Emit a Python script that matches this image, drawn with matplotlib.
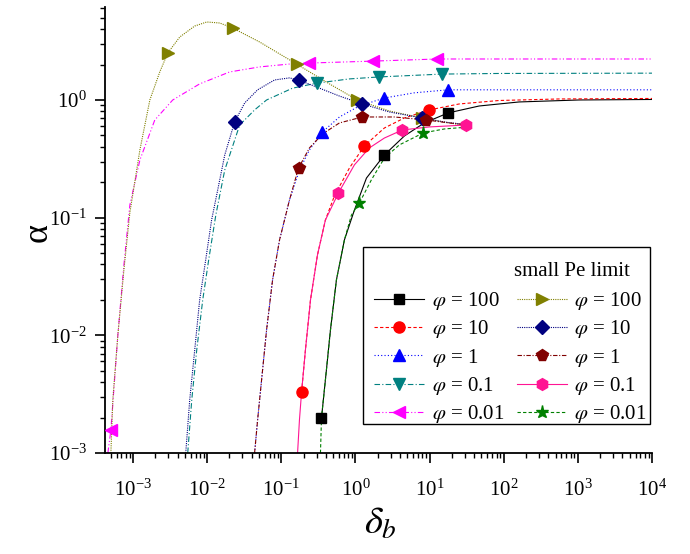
import matplotlib
matplotlib.use("Agg")
import matplotlib.pyplot as plt
from matplotlib.lines import Line2D
from matplotlib.patches import Rectangle
from matplotlib.ticker import LogLocator, NullFormatter

plt.rcParams['font.family'] = ['Liberation Serif', 'DejaVu Serif']
plt.rcParams['mathtext.fontset'] = 'stix'

# ---------------- data ----------------
# main curves (finite Pe)
x_phi100 = [0.349, 0.394, 0.461, 0.555, 0.711, 0.970, 1.41, 2.46, 4.57, 8.49, 17.8, 46.7, 161, 1035, 1e4]
y_phi100 = [1.99e-3, 4.18e-3, 0.0111, 0.0296, 0.0647, 0.116, 0.217, 0.341, 0.494, 0.638, 0.776, 0.889, 0.962, 1.0, 1.01]
mx_phi100 = [0.349, 2.46, 17.8]
my_phi100 = [1.99e-3, 0.341, 0.776]

x_phi10 = [0.188, 0.212, 0.248, 0.308, 0.394, 0.521, 0.830, 1.32, 2.46, 4.57, 9.91, 25.1, 86.7, 557, 1e4]
y_phi10 = [3.30e-3, 7.52e-3, 0.0200, 0.0482, 0.0955, 0.153, 0.264, 0.407, 0.578, 0.703, 0.823, 0.925, 0.99, 1.02, 1.03]
mx_phi10 = [0.188, 1.32, 9.91]
my_phi10 = [3.30e-3, 0.407, 0.823]

x_phi1 = [0.0437, 0.0480, 0.0543, 0.0634, 0.0764, 0.0949, 0.129, 0.176, 0.240, 0.360, 0.609, 1.13, 2.46, 6.22, 17.8, 86.7, 1e4]
y_phi1 = [1e-3, 1.91e-3, 4.18e-3, 0.0111, 0.0296, 0.0647, 0.141, 0.254, 0.376, 0.535, 0.717, 0.889, 1.04, 1.15, 1.22, 1.22, 1.22]
mx_phi1 = [0.360, 2.46, 17.8]
my_phi1 = [0.535, 1.04, 1.22]

x_phi01 = [5.48e-3, 6.21e-3, 7.25e-3, 8.73e-3, 1.05e-2, 1.31e-2, 1.73e-2, 2.75e-2, 4.37e-2, 6.34e-2, 0.142, 0.299, 0.830, 2.10, 14.8, 86.7, 1e4]
y_phi01 = [1e-3, 2.83e-3, 7.52e-3, 0.0200, 0.0437, 0.105, 0.254, 0.613, 0.823, 1.0, 1.26, 1.39, 1.51, 1.57, 1.66, 1.68, 1.69]
mx_phi01 = [0.299, 2.10, 14.8]
my_phi01 = [1.39, 1.57, 1.66]

x_phi001 = [4.59e-4, 5.04e-4, 6.26e-4, 7.55e-4, 9.08e-4, 1.24e-3, 1.97e-3, 3.44e-3, 7.94e-3, 2.01e-2, 5.11e-2, 0.129, 0.240, 1.75, 12.7, 86.7, 1e4]
y_phi001 = [1e-3, 1.57e-3, 0.0101, 0.0397, 0.128, 0.309, 0.676, 1.0, 1.37, 1.73, 1.91, 2.02, 2.06, 2.14, 2.23, 2.23, 2.23]
mx_phi001 = [5.04e-4, 0.240, 1.75, 12.7]
my_phi001 = [1.57e-3, 2.06, 2.14, 2.23]

# small Pe limit curves
xs_phi100 = [5.04e-4, 5.35e-4, 6.26e-4, 7.55e-4, 9.08e-4, 1.24e-3, 1.69e-3, 2.30e-3, 2.95e-3, 4.28e-3, 6.81e-3, 9.88e-3, 1.48e-2, 2.21e-2, 5.11e-2, 0.161, 0.447, 1.06, 2.87, 7.97, 18.4, 34.2]
ys_phi100 = [1e-3, 2.83e-3, 0.0101, 0.036, 0.110, 0.376, 1.0, 1.73, 2.51, 3.43, 4.25, 4.60, 4.51, 4.09, 3.11, 2.02, 1.37, 1.0, 0.806, 0.703, 0.638, 0.601]
mxs_phi100 = [2.95e-3, 2.21e-2, 0.161, 1.06, 7.97]
mys_phi100 = [2.51, 4.09, 2.02, 1.0, 0.703]

xs_phi10 = [5.15e-3, 5.83e-3, 6.81e-3, 7.94e-3, 9.57e-3, 1.15e-2, 1.39e-2, 1.73e-2, 2.35e-2, 3.21e-2, 4.80e-2, 8.13e-2, 0.129, 0.171, 0.328, 0.609, 1.24, 2.87, 7.97, 15.8, 34.2]
ys_phi10 = [1e-3, 2.83e-3, 7.52e-3, 0.0200, 0.0437, 0.0955, 0.172, 0.341, 0.650, 0.943, 1.22, 1.48, 1.54, 1.48, 1.26, 1.08, 0.925, 0.791, 0.703, 0.650, 0.613]
mxs_phi10 = [2.35e-2, 0.171, 1.24, 7.97]
mys_phi10 = [0.650, 1.48, 0.925, 0.703]

xs_phi1 = [0.0437, 0.0480, 0.0543, 0.0634, 0.0764, 0.0949, 0.129, 0.171, 0.240, 0.360, 0.609, 1.24, 3.35, 9.03, 18.4, 34.2]
ys_phi1 = [1e-3, 1.91e-3, 4.18e-3, 0.0111, 0.0296, 0.0647, 0.141, 0.264, 0.391, 0.514, 0.638, 0.717, 0.717, 0.676, 0.638, 0.613]
mxs_phi1 = [0.171, 1.24, 9.03]
mys_phi1 = [0.264, 0.717, 0.676]

xs_phi01 = [0.166, 0.176, 0.188, 0.212, 0.248, 0.308, 0.394, 0.590, 0.970, 1.54, 2.46, 4.29, 9.91, 31.2]
ys_phi01 = [1e-3, 1.91e-3, 3.30e-3, 7.52e-3, 0.0200, 0.0482, 0.0955, 0.162, 0.281, 0.391, 0.475, 0.556, 0.590, 0.613]
mxs_phi01 = [0.590, 4.29, 31.2]
mys_phi01 = [0.162, 0.556, 0.613]

xs_phi001 = [0.338, 0.349, 0.394, 0.461, 0.555, 0.711, 0.883, 1.13, 1.64, 2.46, 3.91, 8.23, 15.8, 34.2]
ys_phi001 = [1e-3, 1.99e-3, 4.18e-3, 0.0111, 0.0296, 0.0647, 0.105, 0.133, 0.209, 0.321, 0.415, 0.525, 0.567, 0.590]
mxs_phi001 = [1.13, 8.23]
mys_phi001 = [0.133, 0.525]

phi_labels = ['100', '10', '1', '0.1', '0.01']
x_major_ticks = [1e-3, 1e-2, 1e-1, 1e0, 1e1, 1e2, 1e3, 1e4]
y_major_ticks = [1e-3, 1e-2, 1e-1, 1e0]

# ---------------- styles ----------------
main_series = [
    (x_phi100, y_phi100, mx_phi100, my_phi100, '#000000', '-', 's', 7),
    (x_phi10, y_phi10, mx_phi10, my_phi10, '#FF0000', (0, (3, 2)), 'o', 8),
    (x_phi1, y_phi1, mx_phi1, my_phi1, '#0000FF', (0, (1, 2)), '^', 8.5),
    (x_phi01, y_phi01, mx_phi01, my_phi01, '#008080', (0, (5, 2, 1, 2)), 'v', 8.5),
    (x_phi001, y_phi001, mx_phi001, my_phi001, '#FF00FF', (0, (5, 2, 1, 2, 1, 2)), '<', 8.5),
]
small_series = [
    (xs_phi100, ys_phi100, mxs_phi100, mys_phi100, '#808000', (0, (1, 1)), '>', 8.5),
    (xs_phi10, ys_phi10, mxs_phi10, mys_phi10, '#000080', (0, (1, 1)), 'D', 7),
    (xs_phi1, ys_phi1, mxs_phi1, mys_phi1, '#800000', (0, (4, 1.5, 1, 1.5)), 'p', 8.5),
    (xs_phi01, ys_phi01, mxs_phi01, mys_phi01, '#FF1493', '-', 'h', 8.5),
    (xs_phi001, ys_phi001, mxs_phi001, mys_phi001, '#008000', (0, (3, 2)), '*', 9.5),
]

LW = 0.8

fig = plt.figure(figsize=(6.9, 5.54), dpi=100)
ax = fig.add_axes([0.1522, 0.1823, 0.7927, 0.8051])
ax.set_xscale('log')
ax.set_yscale('log')

for xs, ys, mx, my, c, ls, mk, ms in main_series + small_series:
    ax.plot(xs, ys, color=c, linestyle=ls, linewidth=LW, zorder=2)
    ax.plot(mx, my, linestyle='none', marker=mk, color=c, markersize=ms,
            markeredgecolor=c, zorder=3, clip_on=False)

for side in ['top', 'right']:
    ax.spines[side].set_visible(False)
for side in ['left', 'bottom']:
    ax.spines[side].set_linewidth(1.3)

ax.set_xticks(x_major_ticks)
ax.set_yticks(y_major_ticks)
ax.xaxis.set_minor_locator(LogLocator(base=10, subs=range(2, 10), numticks=100))
ax.yaxis.set_minor_locator(LogLocator(base=10, subs=range(2, 10), numticks=100))
ax.xaxis.set_minor_formatter(NullFormatter())
ax.yaxis.set_minor_formatter(NullFormatter())
ax.set_xlim(4.2e-4, 1e4)
ax.set_ylim(1e-3, 6.17)
ax.tick_params(which='major', direction='out', length=7, width=1.2, labelsize=15, pad=6)
ax.tick_params(which='minor', direction='out', length=3.5, width=1.0)
ax.tick_params(axis='x', which='major', pad=12)

fig.text(38 / 690, 1 - 232 / 554, 'α', fontsize=26, rotation=90, ha='center', va='center')
fig.text(380 / 690, 1 - 524 / 554, r'$\delta_b$', fontsize=28, ha='center', va='center')

# legend
blank = Line2D([], [], linestyle='none')
handles, labels = [blank], [' ']
for (xs, ys, mx, my, c, ls, mk, ms), lab in zip(main_series, phi_labels):
    handles.append(Line2D([], [], color=c, linestyle=ls, linewidth=LW, marker=mk,
                          markersize=ms, markeredgecolor=c))
    labels.append(r'$\varphi$ = ' + lab)
handles.append(blank)
labels.append(' ')
for (xs, ys, mx, my, c, ls, mk, ms), lab in zip(small_series, phi_labels):
    handles.append(Line2D([], [], color=c, linestyle=ls, linewidth=LW, marker=mk,
                          markersize=ms, markeredgecolor=c))
    labels.append(r'$\varphi$ = ' + lab)

leg = ax.legend(handles, labels, ncol=2, loc='upper right', bbox_to_anchor=(1.005, 0.4417),
                borderaxespad=0, fontsize=15, handlelength=2.4, handletextpad=0.35,
                columnspacing=0.6, labelspacing=0.30, numpoints=1, frameon=False,
                borderpad=0.4)
fig.patches.append(Rectangle((363 / 690, 1 - 424 / 554), (650 - 363) / 690, (424 - 247) / 554,
                             transform=fig.transFigure, fill=False, edgecolor='black',
                             linewidth=1.0, zorder=5))
fig.text(514 / 690, 1 - 271 / 554, 'small Pe limit', fontsize=15, ha='left', va='center')

fig.savefig('out.png', dpi=100)
